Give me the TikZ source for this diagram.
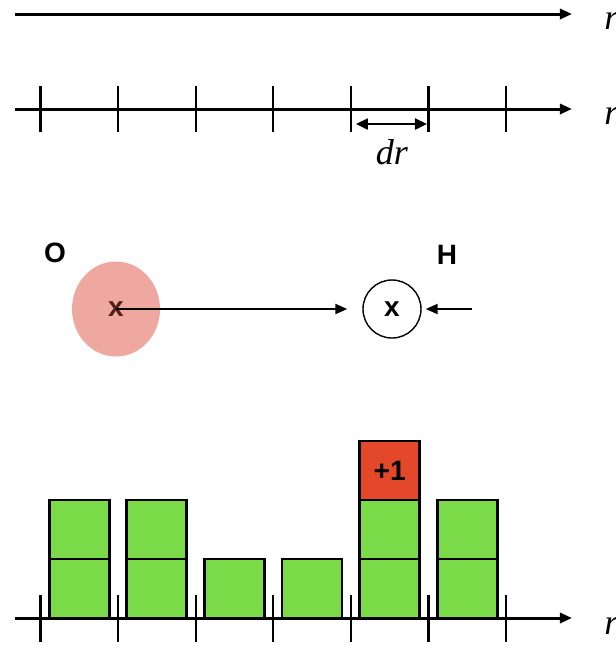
\documentclass[tikz,border=0pt]{standalone}
\usepackage{fontspec}
\setmainfont{Liberation Serif}
\setsansfont{Liberation Sans}
\usepackage{xcolor}
\usepackage{tikz}
\usetikzlibrary{arrows.meta,positioning,shapes.geometric}
\definecolor{rdfgreen}{RGB}{122,218,72}
\definecolor{rdfred}{RGB}{228,72,42}
\definecolor{rdfpink}{RGB}{238,168,160}
\definecolor{rdfdark}{RGB}{80,30,25}
\tikzset{
  rdfaxis/.style={line width=1.5pt, -{Triangle[length=6pt,width=5pt]}},
  rdftick/.style={line width=1.1pt},
  rdfbin/.style={draw, line width=1.4pt, fill=rdfgreen, minimum width=30pt, minimum height=29.5pt, inner sep=0pt, outer sep=0pt},
  rdfnew/.style={rdfbin, fill=rdfred, font=\sffamily\bfseries\fontsize{14}{16}\selectfont},
  rdfatom/.style={font=\sffamily\bfseries\fontsize{14}{16}\selectfont},
  rdfvar/.style={font=\itshape\fontsize{18}{20}\selectfont, inner sep=0pt},
  rdfarrow/.style={line width=1pt, -{Triangle[length=6pt,width=5pt]}},
  rdfboth/.style={line width=1.2pt, {Triangle[length=6pt,width=5.5pt]}-{Triangle[length=6pt,width=5.5pt]}}
}

\begin{document}
\begin{tikzpicture}[x=0.5pt,y=-0.5pt]
\useasboundingbox (0,0) rectangle (616,645);

% continuous axis
\coordinate (top0) at (15,14);
\coordinate (top1) at (572,14);
\draw[rdfaxis] (top0) -- (top1);
\node[rdfvar, anchor=west] (rtop) at (604,21) {r};

% binned axis
\coordinate (mid0) at (15,109);
\coordinate (mid1) at (572,109);
\draw[rdfaxis] (mid0) -- (mid1);
\node[rdfvar, anchor=west] (rmid) at (604,116) {r};
\foreach \i in {0,...,6} {
  \coordinate (mt\i) at ({40.5+77.6*\i},86);
  \draw[rdftick] (mt\i) -- ++(0,46);
}
\coordinate (dra) at (356,124);
\coordinate (drb) at (427,124);
\draw[rdfboth] (dra) -- (drb);
\node[rdfvar] (dr) at (392,152) {dr};

% atoms
\node[ellipse, fill=rdfpink, minimum width=44pt, minimum height=47.5pt, inner sep=0pt] (oatom) at (116,309) {};
\node[rdfatom, text=rdfdark, inner sep=0pt] (ox) at (116,309) {x};
\node[rdfatom] (olab) at (55,253) {O};
\node[draw, circle, line width=0.7pt, minimum size=29pt, inner sep=0pt, rdfatom] (hatom) at (392,309) {x};
\node[rdfatom] (hlab) at (447,255) {H};
\coordinate (hpush) at (472,309);
\draw[rdfarrow, shorten >=7.5pt] (ox.center) -- (hatom.west);
\draw[rdfarrow, shorten >=2pt] (hpush) -- (hatom.east);

% histogram
\foreach \n [count=\i] in {2,2,1,1,2,2} {
  \node[rdfbin, anchor=south] (bin\i-1) at ({1.7+77.6*\i},618) {};
  \ifnum\n>1 \node[rdfbin, above=0pt of bin\i-1] (bin\i-2) {}; \fi
}
\node[rdfnew, above=0pt of bin5-2] (binnew) {+1};
\coordinate (bot0) at (15,618);
\coordinate (bot1) at (572,618);
\draw[rdfaxis] (bot0) -- (bot1);
\node[rdfvar, anchor=west] (rbot) at (604,626) {r};
\foreach \i in {0,...,6} {
  \coordinate (bt\i) at ({40.5+77.6*\i},595);
  \draw[rdftick] (bt\i) -- ++(0,47);
}
\end{tikzpicture}
\end{document}
